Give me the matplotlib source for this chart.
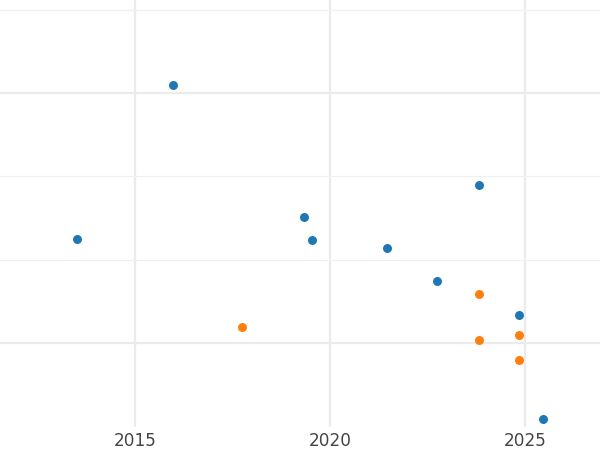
import matplotlib
matplotlib.use("Agg")
import matplotlib.pyplot as plt
from matplotlib.ticker import FixedLocator

# values (y in gridline units, no labels shown)
blue_year = [2013.50, 2015.97, 2019.31, 2019.54, 2021.44, 2022.73, 2023.81, 2024.84, 2025.45]
blue_val = [1.25, 3.10, 1.51, 1.24, 1.14, 0.75, 1.90, 0.34, -0.91]
orange_year = [2017.74, 2023.81, 2023.81, 2024.84, 2024.84]
orange_val = [0.19, 0.59, 0.04, 0.10, -0.21]

year_ticks = [2015, 2020, 2025]

fig = plt.figure(figsize=(6, 4.5), dpi=100)
ax = fig.add_axes([0, 1 - 427 / 450, 1, 427 / 450])

ax.scatter(blue_year, blue_val, s=42, color="tab:blue", zorder=3, linewidths=0)
ax.scatter(orange_year, orange_val, s=42, color="tab:orange", zorder=3, linewidths=0)

ax.set_xlim(2011.53, 2026.91)
ax.set_ylim(-1.01, 4.12)
ax.set_xticks(year_ticks)
ax.set_xticklabels([str(y) for y in year_ticks])
ax.yaxis.set_major_locator(FixedLocator([0, 3]))
ax.yaxis.set_minor_locator(FixedLocator([1, 2, 4]))

ax.grid(True, which="major", color="#ebebeb", linewidth=1.6)
ax.grid(True, which="minor", axis="y", color="#f0f0f0", linewidth=0.9)
ax.set_axisbelow(True)
ax.tick_params(which="both", length=0, labelsize=12.2, labelcolor="#444444", pad=3.5)
ax.tick_params(axis="y", labelleft=False)
for s in ax.spines.values():
    s.set_visible(False)

fig.savefig("out.png", dpi=100)
